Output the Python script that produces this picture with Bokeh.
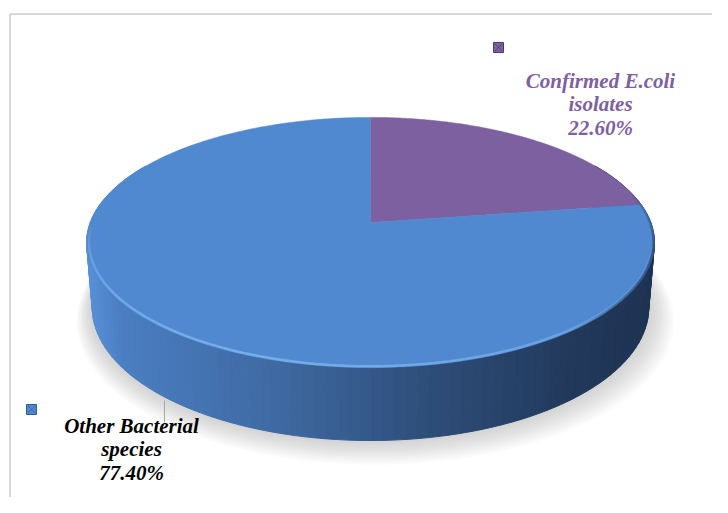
import numpy as np
from bokeh.plotting import figure
from bokeh.models import Range1d
from bokeh.core.properties import value
from bokeh.embed import file_html
from bokeh.resources import INLINE

# ---- data ----
categories = ["Confirmed E.coli isolates", "Other Bacterial species"]
values = [22.60, 77.40]
slice_colors = ["#7D60A0", "#5189D1"]
label_lines = [["Confirmed E.coli", "isolates", "22.60%"],
               ["Other Bacterial", "species", "77.40%"]]
label_colors = ["#7D60A0", "#000000"]

W, H = 712, 497
p = figure(width=W, height=H, output_backend="svg", toolbar_location=None,
           x_range=Range1d(0, W), y_range=Range1d(H, 0),
           x_axis_location=None, y_axis_location=None, min_border=0)
p.grid.visible = False
p.outline_line_color = None
p.background_fill_color = "white"

# ---- perspective projection of a cylinder ----
cx, cy = 370.0, 222.0
F, D = 1578.0, 5.63
s = 0.435
c = float(np.sqrt(1 - s * s))
depth = 0.26


def proj(theta_deg, r=1.0, z=0.0):
    t = np.radians(np.asarray(theta_deg, dtype=float))
    X = r * np.sin(t)
    Y = r * np.cos(t)
    v = Y * s + z * c
    w = D + Y * c - z * s
    return cx + F * X / w, cy - F * v / w


# shadow
for k in range(12, 0, -1):
    th = np.linspace(0, 360, 181)
    xs, ys = proj(th, r=1.0 + 0.006 * k, z=-depth)
    p.patch(xs + 0.4 * k, ys + k * 0.9, fill_color="#808080",
            fill_alpha=0.035, line_color=None)


def side_color(t):
    stops = [(0.0, (88, 145, 215)), (0.06, (74, 126, 194)), (0.35, (62, 104, 160)),
             (0.6, (46, 78, 122)), (0.85, (34, 57, 92)), (1.0, (30, 50, 82))]
    for (t0, c0), (t1, c1) in zip(stops[:-1], stops[1:]):
        if t <= t1:
            f = (t - t0) / (t1 - t0) if t1 > t0 else 0
            col = tuple(int(round(a + (b - a) * f)) for a, b in zip(c0, c1))
            return "#%02x%02x%02x" % col
    return "#%02x%02x%02x" % stops[-1][1]


ths = np.arange(60, 302, 2.0)
sx_list, sy_list, cols = [], [], []
for a, b in zip(ths[:-1], ths[1:]):
    tx, ty = proj([a, b], z=0.0)
    bx, by = proj([b, a], z=-depth)
    xs = list(tx) + list(bx)
    ys = list(ty) + list(by)
    sx_list.append(xs)
    sy_list.append(ys)
    m = (np.mean(xs) - 87) / (653 - 87)
    cols.append(side_color(min(max(m, 0), 1)))
p.patches(sx_list, sy_list, fill_color=cols, line_color=cols, line_width=1)

# top face wedges
total = sum(values)
start = 0.0
for val, col in zip(values, slice_colors):
    end = start + 360.0 * val / total
    th = np.linspace(start, end, 200)
    ax, ay = proj(th)
    p.patch([cx] + list(ax) + [cx], [cy] + list(ay) + [cy],
            fill_color=col, line_color=col, line_width=0.5)
    start = end

# rim highlight along the front edge
th = np.linspace(95, 268, 120)
hx, hy = proj(th, r=0.992)
segx = [[hx[i], hx[i + 1]] for i in range(len(hx) - 1)]
segy = [[hy[i], hy[i + 1]] for i in range(len(hy) - 1)]
alph = [0.85 * np.sin(np.pi * (th[i] - 95) / (268 - 95)) ** 0.6 *
        (0.4 + 0.6 * (th[i] - 95) / (268 - 95)) for i in range(len(hx) - 1)]
p.multi_line(segx, segy, line_color="#8CC3FA", line_alpha=alph, line_width=2.5)

# dark bevel on right edge
th = np.linspace(75, 140, 60)
dx, dy = proj(th, r=0.997)
segx = [[dx[i], dx[i + 1]] for i in range(len(dx) - 1)]
segy = [[dy[i], dy[i + 1]] for i in range(len(dy) - 1)]
alph = [0.6 * np.sin(np.pi * (th[i] - 75) / 65) for i in range(len(dx) - 1)]
p.multi_line(segx, segy, line_color="#1F3556", line_alpha=alph, line_width=2.5)

# chart border (top and left only visible)
p.line([9.5, 730], [13.5, 13.5], line_color="#D9D9D9", line_width=2)
p.line([9.5, 9.5], [13.5, 520], line_color="#D9D9D9", line_width=2)

# leader line for the large slice
p.line([164, 164], [400, 422], line_color="#A6A6A6", line_width=1)

# legend keys
keys_x = [498, 31]
keys_y = [47, 409]
p.scatter(keys_x, keys_y, marker="square", size=10, fill_color=slice_colors,
          line_color=["#4E3A66", "#2F5A92"], line_width=1)
p.scatter(keys_x, keys_y, marker="x", size=10, line_color=["#3E2C55", "#2A4F80"],
          line_width=1, line_alpha=0.5)

# labels
label_x = [600, 131]
label_y0 = [80, 425]
for lines, lx, ly, col in zip(label_lines, label_x, label_y0, label_colors):
    p.text(x=[lx] * len(lines), y=[ly + 23.5 * i for i in range(len(lines))], text=lines,
           text_font=value("Liberation Serif"), text_font_style="bold italic",
           text_font_size="21px", text_color=col, text_align="center",
           text_baseline="middle")

open("out.html", "w").write(file_html(p, INLINE))
